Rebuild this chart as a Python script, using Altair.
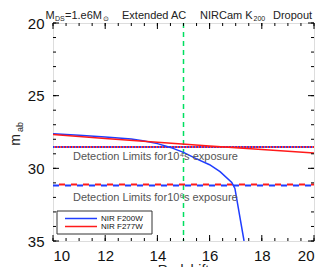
import altair as alt
import pandas as pd

# data
z_blue = [10.0, 11.0, 12.0, 13.0, 13.5, 14.0, 14.5, 15.0, 15.5, 16.0, 16.4, 16.85, 16.97, 17.32]
m_blue = [27.62, 27.72, 27.84, 27.98, 28.12, 28.3, 28.56, 28.9, 29.35, 29.75, 30.23, 30.97, 31.38, 35.0]
z_red = [10.0, 12.0, 14.0, 16.0, 18.0, 20.0]
m_red = [27.68, 27.95, 28.2, 28.46, 28.71, 28.95]
lim_1e4 = 28.53
lim_1e6_blue = 31.18
lim_1e6_red = 31.12
z_marker = 15.0
x_major = [10, 12, 14, 16, 18, 20]
x_minor = [10 + 0.5 * i for i in range(21)]
y_major = [20, 25, 30, 35]
y_minor = list(range(20, 36))

W, H = 261, 218
xs = alt.Scale(domain=[10, 20], nice=False, zero=False)
ys = alt.Scale(domain=[20, 35], nice=False, zero=False, reverse=True)

BLUE = "#1f3dff"
RED = "#ff1a1a"
FONT = "Liberation Sans"

df_b = pd.DataFrame({"z": z_blue, "m": m_blue})
df_r = pd.DataFrame({"z": z_red, "m": m_red})

base_axes = alt.Chart(pd.DataFrame({"z": [10, 20], "m": [20, 35]})).mark_point(opacity=0).encode(
    x=alt.X("z:Q", scale=xs, axis=alt.Axis(values=x_major, ticks=False, domain=False, grid=False,
                                           labelFontSize=15, labelPadding=7, labelColor="#111",
                                           labelFont=FONT, title=None)),
    y=alt.Y("m:Q", scale=ys, axis=alt.Axis(values=y_major, ticks=False, domain=False, grid=False,
                                           labelFontSize=15, labelPadding=9, labelColor="#111",
                                           labelFont=FONT, title=None)),
)

blue_line = alt.Chart(df_b).mark_line(color=BLUE, strokeWidth=1.5, clip=True).encode(
    x=alt.X("z:Q", scale=xs), y=alt.Y("m:Q", scale=ys), order="z:Q")
red_line = alt.Chart(df_r).mark_line(color=RED, strokeWidth=1.5, clip=True).encode(
    x=alt.X("z:Q", scale=xs), y=alt.Y("m:Q", scale=ys), order="z:Q")

def hline(val, color, dash, offset):
    return alt.Chart(pd.DataFrame({"m": [val]})).mark_rule(
        color=color, strokeWidth=2, strokeDash=dash, strokeDashOffset=offset).encode(
        y=alt.Y("m:Q", scale=ys), x=alt.value(0), x2=alt.value(W))

dot_b = hline(lim_1e4, BLUE, [1.5, 1.5], 0)
dot_r = hline(lim_1e4, RED, [1.5, 1.5], 1.5)
dash_b = hline(lim_1e6_blue, BLUE, [6, 6], 0)
dash_r = hline(lim_1e6_red, RED, [6, 6], 6)

vline = alt.Chart(pd.DataFrame({"z": [z_marker]})).mark_rule(
    color="#00e060", strokeWidth=1.5, strokeDash=[5, 4]).encode(
    x=alt.X("z:Q", scale=xs), y=alt.value(0), y2=alt.value(H))

# inward ticks
def xticks(vals, length):
    d = pd.DataFrame({"z": vals})
    b = alt.Chart(d).mark_rule(color="black", strokeWidth=1).encode(
        x=alt.X("z:Q", scale=xs), y=alt.value(H), y2=alt.value(H - length))
    t = alt.Chart(d).mark_rule(color="black", strokeWidth=1).encode(
        x=alt.X("z:Q", scale=xs), y=alt.value(0), y2=alt.value(length))
    return b + t

def yticks(vals, length):
    d = pd.DataFrame({"m": vals})
    l = alt.Chart(d).mark_rule(color="black", strokeWidth=1).encode(
        y=alt.Y("m:Q", scale=ys), x=alt.value(0), x2=alt.value(length))
    r = alt.Chart(d).mark_rule(color="black", strokeWidth=1).encode(
        y=alt.Y("m:Q", scale=ys), x=alt.value(W), x2=alt.value(W - length))
    return l + r

ticks = xticks(x_major, 6) + xticks(x_minor, 3) + yticks(y_major, 6) + yticks(y_minor, 3)

def txt(s, x, y, size=11, color="#222", angle=0, align="left", baseline="alphabetic"):
    return alt.Chart(pd.DataFrame({"t": [s]})).mark_text(
        text=s, fontSize=size, color=color, align=align, baseline=baseline, angle=angle,
        font=FONT).encode(x=alt.value(x), y=alt.value(y))

ox, oy = 53, 23
TB = 18.5  # title baseline (page px)
ann = [
    txt("Detection Limits for10\u2074s exposure", 73 - ox, 160 - oy, size=11, color="#555"),
    txt("Detection Limits for10\u2076s exposure", 73 - ox, 201 - oy, size=11, color="#555"),
    # title segments
    txt("M", 45.5 - ox, TB - oy, size=11),
    txt("DS", 55 - ox, TB + 2.5 - oy, size=7),
    txt("=1.e6M", 65 - ox, TB - oy, size=11),
    txt("\u2299", 102.5 - ox, TB + 2.5 - oy, size=7),
    txt("Extended AC", 122 - ox, TB - oy, size=11),
    txt("NIRCam K", 200 - ox, TB - oy, size=11),
    txt("200", 253.5 - ox, TB + 2.5 - oy, size=7),
    txt("Dropout", 273 - ox, TB - oy, size=11),
    # y title
    txt("m", 20 - ox, 140 - oy, size=14, angle=270, align="center"),
    txt("ab", 23 - ox, 127 - oy, size=9, angle=270, align="center"),
    # x title (partly cut at the bottom edge, as in the original)
    txt("Redshift", 183.5 - ox, 263.5 - oy, size=14, align="center", baseline="top"),
]

# legend box
legend_box = alt.Chart(pd.DataFrame({"a": [0]})).mark_rect(
    fill="white", stroke="#333", strokeWidth=1).encode(
    x=alt.value(57 - ox), x2=alt.value(152 - ox), y=alt.value(211 - oy), y2=alt.value(234 - oy))
leg_b = alt.Chart(pd.DataFrame({"a": [0]})).mark_rule(color=BLUE, strokeWidth=1.5).encode(
    x=alt.value(65 - ox), x2=alt.value(97 - ox), y=alt.value(218.5 - oy))
leg_r = alt.Chart(pd.DataFrame({"a": [0]})).mark_rule(color=RED, strokeWidth=1.5).encode(
    x=alt.value(65 - ox), x2=alt.value(97 - ox), y=alt.value(226.5 - oy))
leg_t = [
    txt("NIR F200W", 101 - ox, 218.5 - oy, size=8, color="#111", baseline="middle"),
    txt("NIR F277W", 101 - ox, 226.5 - oy, size=8, color="#111", baseline="middle"),
]

layers = [base_axes, vline, dot_b, dot_r, dash_b, dash_r, blue_line, red_line, ticks] + ann + [legend_box, leg_b, leg_r] + leg_t
chart = alt.layer(*layers).properties(
    width=W, height=H,
    autosize=alt.AutoSizeParams(type="none"),
    padding={"left": 45, "top": 15, "right": 8, "bottom": 26},
).configure_view(stroke="black", strokeWidth=1.2).configure(background="white")

chart.save("out.html", embed_options={"renderer": "svg", "actions": False})
